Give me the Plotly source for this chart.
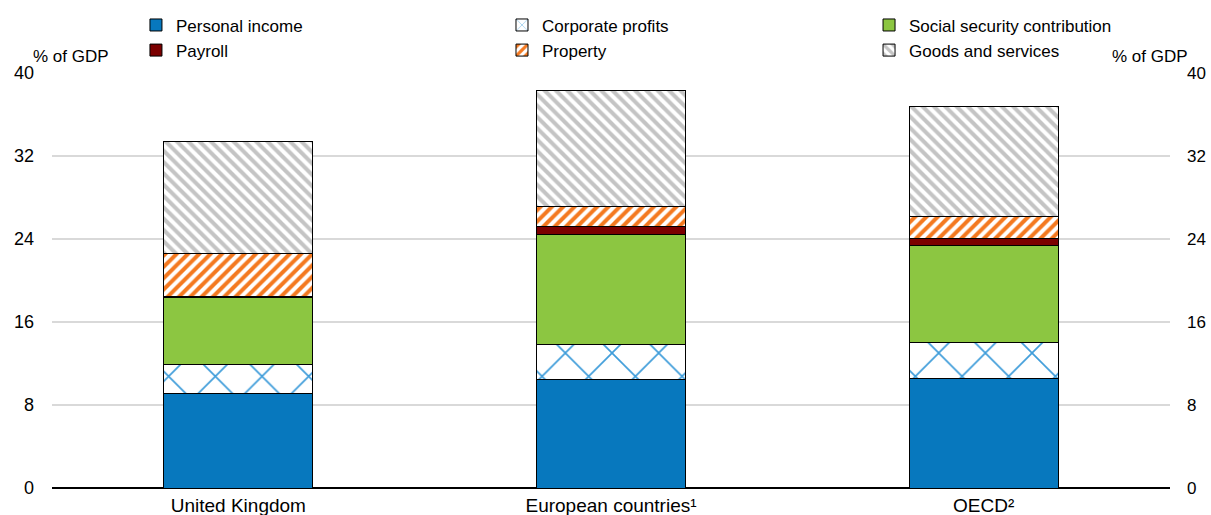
import plotly.graph_objects as go

categories = ["United Kingdom", "European countries\u00b9", "OECD\u00b2"]

personal_income = [9.1, 10.5, 10.6]
corporate_profits = [2.85, 3.3, 3.4]
social_security = [6.4, 10.6, 9.4]
payroll = [0.12, 0.77, 0.65]
property_tax = [4.1, 2.0, 2.1]
goods_services = [10.8, 11.1, 10.6]

y_ticks = [0, 8, 16, 24, 32, 40]

FONT = "Liberation Sans, Arial, sans-serif"
line = dict(color="black", width=1)

series = [
    ("Personal income", personal_income, dict(color="#0778be", line=line), "legend"),
    ("Corporate profits", corporate_profits,
     dict(color="white", line=line,
          pattern=dict(shape="x", fgcolor="#3f9dda", bgcolor="white", size=33, solidity=0.1, fillmode="replace")),
     "legend2"),
    ("Social security contribution", social_security, dict(color="#8cc641", line=line), "legend3"),
    ("Payroll", payroll, dict(color="#7b0000", line=line), "legend"),
    ("Property", property_tax,
     dict(color="white", line=line,
          pattern=dict(shape="/", fgcolor="#f47920", bgcolor="white", size=8, solidity=0.5, fillmode="replace")),
     "legend2"),
    ("Goods and services", goods_services,
     dict(color="white", line=line,
          pattern=dict(shape="\\", fgcolor="#c4c4c4", bgcolor="white", size=8, solidity=0.5, fillmode="replace")),
     "legend3"),
]

fig = go.Figure()
for name, vals, marker, leg in series:
    fig.add_trace(go.Bar(x=categories, y=vals, name=name, marker=marker, width=0.4, legend=leg))

fig.add_trace(go.Scatter(x=categories, y=[None]*3, yaxis="y2", showlegend=False, hoverinfo="skip"))

leg_common = dict(orientation="v", yanchor="top", y=1.158, xanchor="left",
                  font=dict(size=17, color="black"), traceorder="normal",
                  bgcolor="rgba(0,0,0,0)", itemwidth=30, tracegroupgap=0)

fig.update_layout(
    barmode="stack",
    width=1211, height=515,
    margin=dict(l=52, r=41, t=73, b=27, autoexpand=False),
    plot_bgcolor="white", paper_bgcolor="white",
    font=dict(family=FONT, size=17, color="black"),
    showlegend=True,
    legend=dict(x=0.0751, **leg_common),
    legend2=dict(x=0.4025, **leg_common),
    legend3=dict(x=0.7308, **leg_common),
    xaxis=dict(showgrid=False, tickfont=dict(size=19), ticks="", showline=False,
               range=[-0.5, 2.5], ticklabelstandoff=4),
    yaxis=dict(range=[0, 40], tickvals=y_ticks, showgrid=True, gridcolor="#d9d9d9", gridwidth=1.5,
               zeroline=True, zerolinecolor="black", zerolinewidth=1.5,
               tickfont=dict(size=18), ticklabelstandoff=17, showline=False),
    yaxis2=dict(range=[0, 40], tickvals=y_ticks, overlaying="y", side="right", showgrid=False,
                zeroline=False, tickfont=dict(size=17), ticklabelstandoff=16, showline=False),
    annotations=[
        dict(text="% of GDP", xref="paper", yref="paper", x=-0.017, y=1.0, xanchor="left", yanchor="bottom",
             xshift=-2, yshift=5, showarrow=False, font=dict(size=17)),
        dict(text="% of GDP", xref="paper", yref="paper", x=1.015, y=1.0, xanchor="right", yanchor="bottom",
             xshift=3, yshift=5, showarrow=False, font=dict(size=17)),
    ],
)

fig.write_html("out.html", post_script="document.body.style.margin='0';",
               config={"displayModeBar": False})
